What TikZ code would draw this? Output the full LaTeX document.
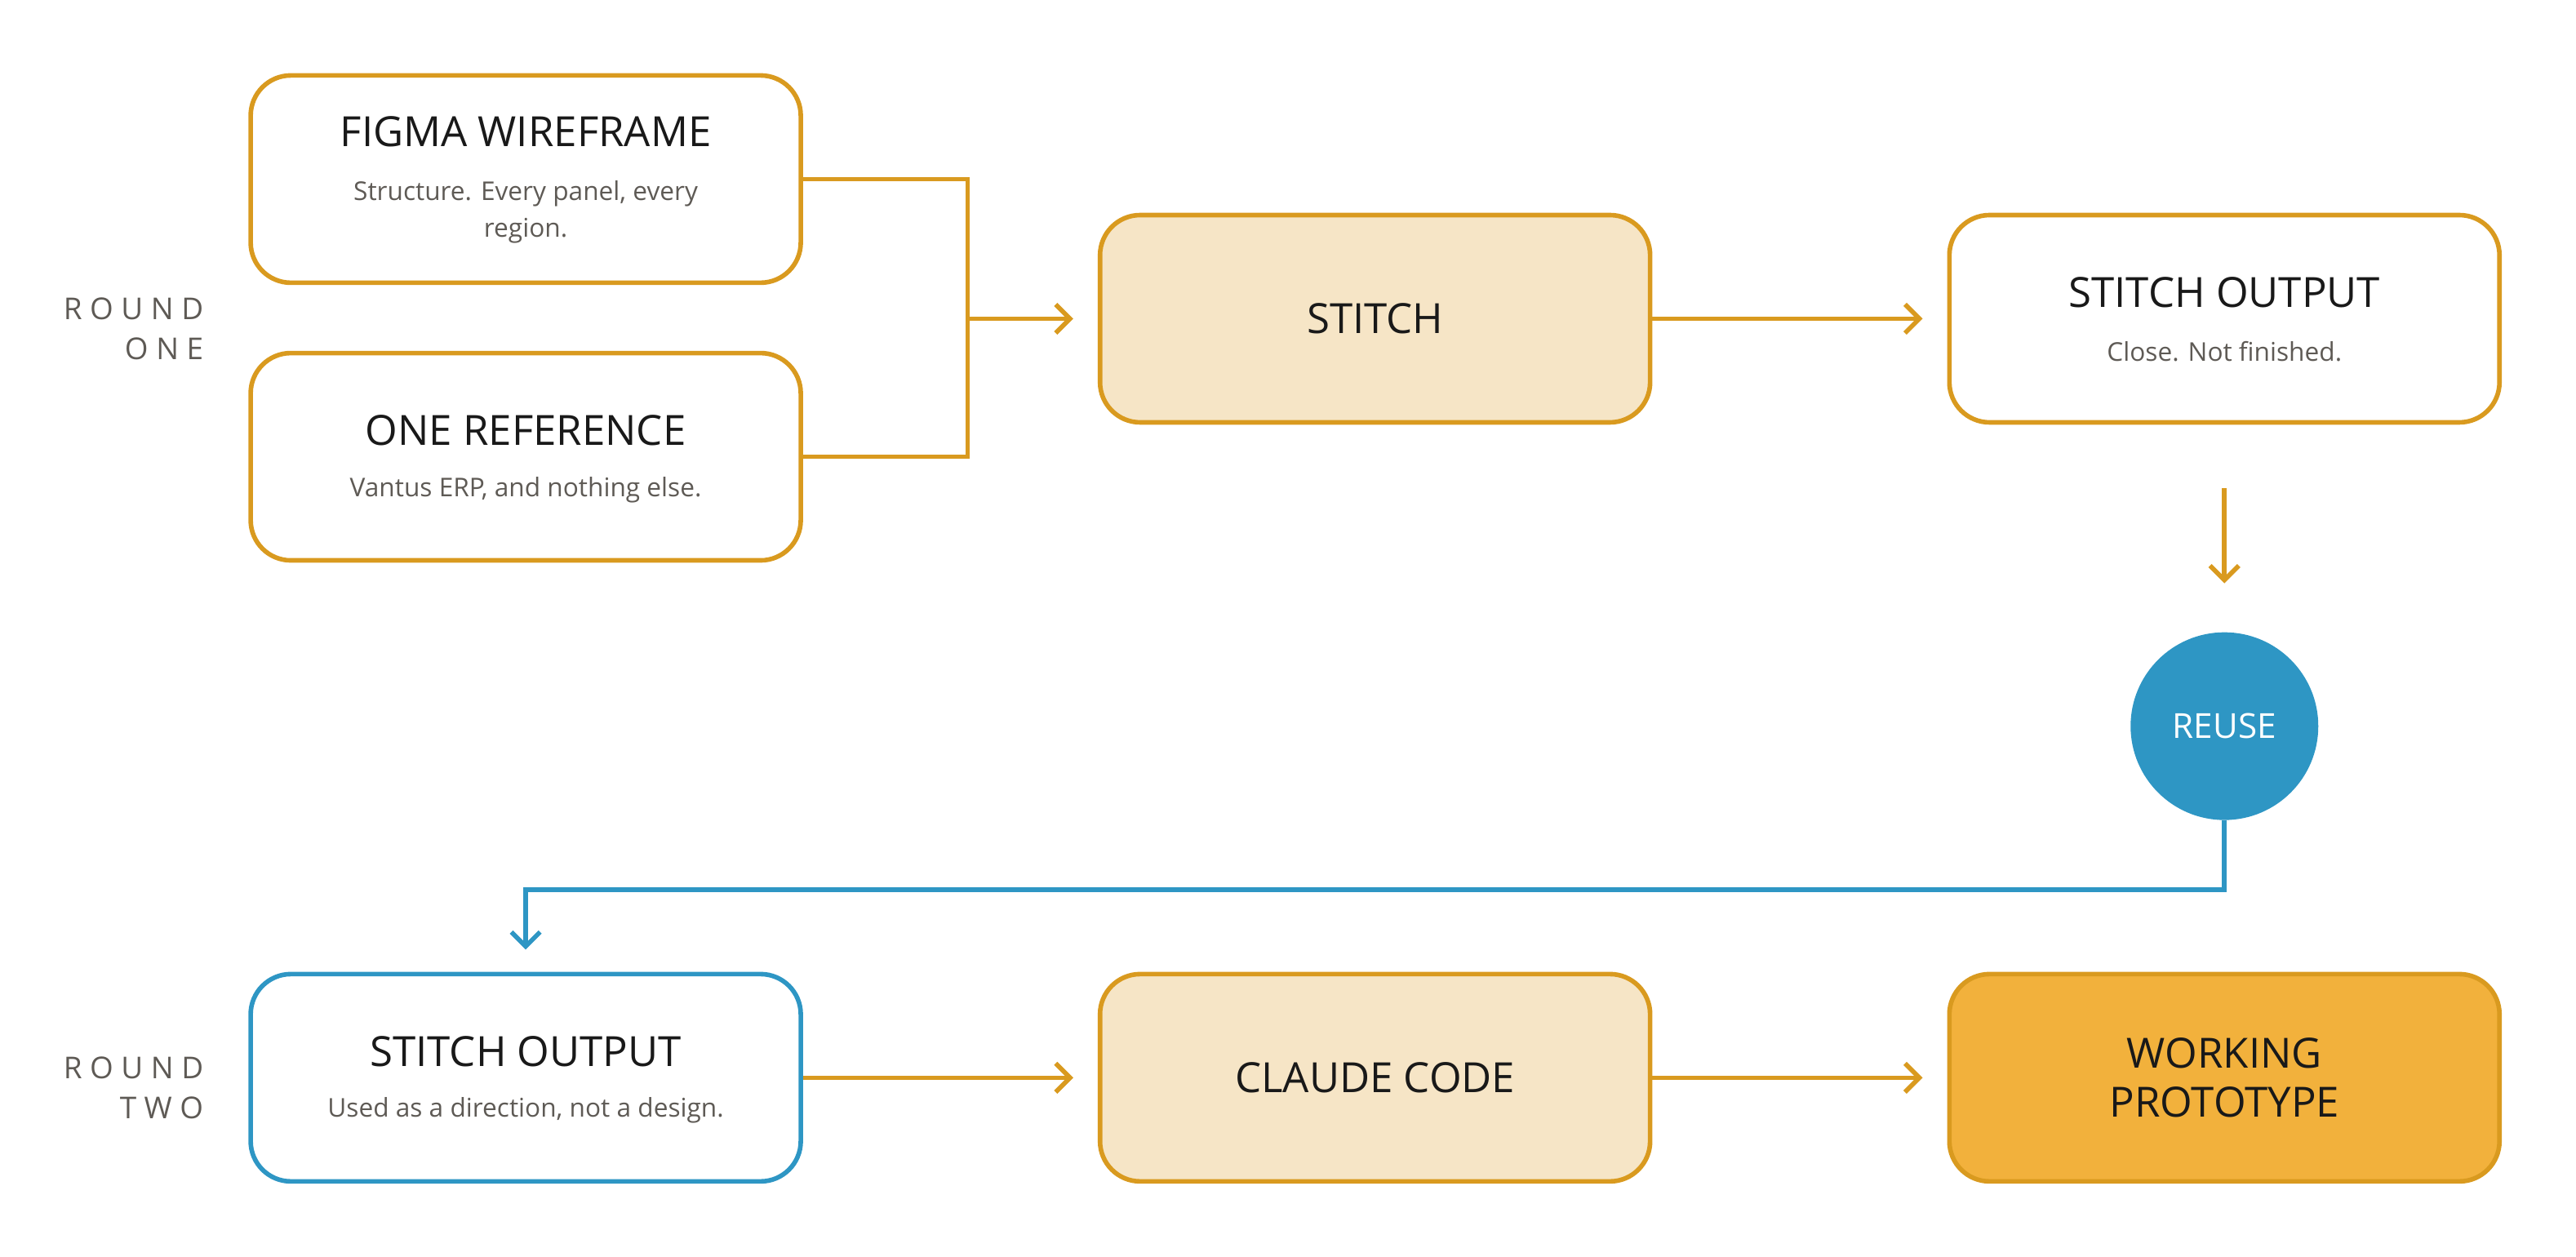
\documentclass[tikz,border=0pt]{standalone}
\usepackage{fontspec}
\setmainfont{Open Sans}
\usetikzlibrary{arrows.meta}
\definecolor{amber}{HTML}{D99A1F}
\definecolor{cream}{HTML}{F6E5C6}
\definecolor{gold}{HTML}{F2B13C}
\definecolor{sky}{HTML}{2E96C4}
\definecolor{slate}{HTML}{5E5A55}
\begin{document}
\begin{tikzpicture}[x=0.2013mm,y=-0.2013mm]
\tikzstyle{stage} = [draw=amber, line width=1.6pt, rounded corners=14pt, minimum width=67.4mm, minimum height=25.4mm, inner sep=0pt]
\tikzstyle{head} = [text=black!90, font=\fontsize{14.5}{17}\selectfont, align=center]
\tikzstyle{sub} = [text=slate, font=\fontsize{9}{13}\selectfont, align=center]
\tikzstyle{flow} = [draw=amber, line width=1.6pt, -{Straight Barb[length=5pt,width=10pt]}]
\tikzstyle{side} = [align=right, anchor=east, text=slate, font=\fontsize{10.5}{14}\selectfont]

\useasboundingbox (0,0) rectangle (1568,765);

\node[stage] (wire) at (320,109) {};
\node[stage] (ref) at (320,278) {};
\node[stage, fill=cream] (stitch) at (837,194) {};
\node[stage] (out) at (1354,194) {};
\node[circle, fill=sky, minimum size=23mm, text=white, font=\fontsize{12}{14}\selectfont] (reuse) at (1354,442) {REUSE};
\node[stage, draw=sky] (dir) at (320,656) {};
\node[stage, fill=cream] (claude) at (837,656) {};
\node[stage, fill=gold] (proto) at (1354,656) {};

\node[head] (wireh) at (320,80) {FIGMA WIREFRAME};
\node[sub] (wires) at (320,129) {Structure. Every panel, every\\region.};
\node[head] (refh) at (320,262) {ONE REFERENCE};
\node[sub] (refs) at (320,298) {Vantus ERP, and nothing else.};
\node[head] (stitchh) at (837,194) {STITCH};
\node[head] (outh) at (1354,178) {STITCH OUTPUT};
\node[sub] (outs) at (1354,214) {Close. Not finished.};
\node[head] (dirh) at (320,640) {STITCH OUTPUT};
\node[sub] (dirs) at (320,676) {Used as a direction, not a design.};
\node[head] (claudeh) at (837,656) {CLAUDE CODE};
\node[head] (protoh) at (1354,656) {WORKING\\PROTOTYPE};

\node[side] (r1) at (130,200) {R O U N D\\O N E};
\node[side] (r2) at (130,662) {R O U N D\\T W O};

\coordinate (join) at (589,194);
\coordinate (outlow) at (1354,297);
\coordinate (reusetop) at (1354,355);
\coordinate (dirtop) at (320,578);

\draw[draw=amber, line width=1.6pt] (wire.east) -| (join);
\draw[draw=amber, line width=1.6pt] (ref.east) -| (join);
\draw[flow] (join) -- ([xshift=-3mm]stitch.west);
\draw[flow] (stitch.east) -- ([xshift=-3mm]out.west);
\draw[flow] (outlow) -- (reusetop);
\draw[flow, draw=sky] (reuse.south) -- ++(0,42) -| (dirtop);
\draw[flow] (dir.east) -- ([xshift=-3mm]claude.west);
\draw[flow] (claude.east) -- ([xshift=-3mm]proto.west);
\end{tikzpicture}
\end{document}
